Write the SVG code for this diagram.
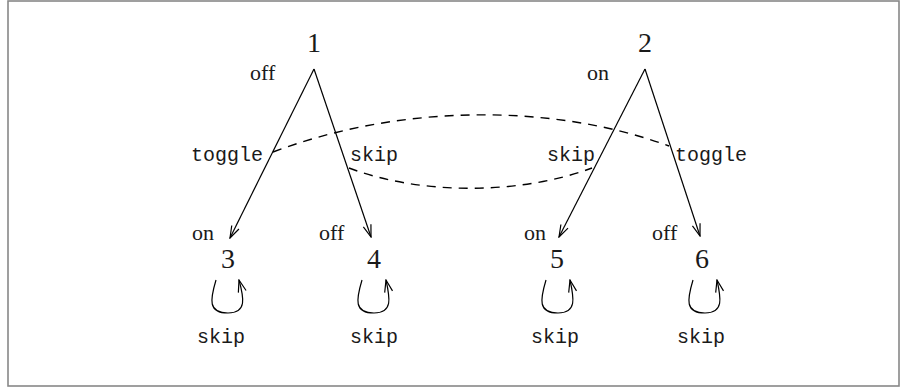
<svg xmlns="http://www.w3.org/2000/svg" width="907" height="390" viewBox="0 0 907 390">
<style>
.num{font-family:"Liberation Serif",serif;font-size:28px;fill:#1a1a1a;text-anchor:middle}
.st{font-family:"Liberation Serif",serif;font-size:22px;fill:#1a1a1a}
.tt{font-family:"Liberation Mono",monospace;font-size:20px;fill:#1a1a1a}
.ln{fill:none;stroke:#000;stroke-width:1.2}
.ds{fill:none;stroke:#000;stroke-width:1.4;stroke-dasharray:9 7}
</style>
<defs>
<marker id="ar" viewBox="0 0 14 10" refX="13" refY="5" markerWidth="14" markerHeight="10" markerUnits="userSpaceOnUse" orient="auto">
<path d="M1,1 L13,5 L1,9" fill="none" stroke="#000" stroke-width="1.2"/>
</marker>
</defs>
<rect x="8" y="1" width="891" height="385" fill="#fff" stroke="#888" stroke-width="1.6"/>
<g id="n1"><text class="num" x="314" y="52">1</text><text class="st" x="250" y="80">off</text></g>
<g id="n2"><text class="num" x="645" y="52">2</text><text class="st" x="587" y="80">on</text></g>
<g id="n3"><text class="num" x="228" y="268">3</text><text class="st" x="192" y="240">on</text></g>
<g id="n4"><text class="num" x="374" y="268">4</text><text class="st" x="319" y="240">off</text></g>
<g id="n5"><text class="num" x="557" y="268">5</text><text class="st" x="524" y="240">on</text></g>
<g id="n6"><text class="num" x="702" y="268">6</text><text class="st" x="652" y="240">off</text></g>
<g id="connectors">
<path class="ln" d="M314,69 L230,238" marker-end="url(#ar)"/>
<path class="ln" d="M314,69 L371,237" marker-end="url(#ar)"/>
<path class="ln" d="M645,69 L559,237" marker-end="url(#ar)"/>
<path class="ln" d="M645,69 L700,236" marker-end="url(#ar)"/>
<path class="ds" d="M273,152 C400,104 552,103 669,146"/>
<path class="ds" d="M349,168 C420,195 520,195 592,168"/>
<path class="ln" d="M216,280 C210,300 208,313 228,313 C247,313 244,298 239,280" marker-end="url(#ar)"/>
<path class="ln" d="M362,280 C356,300 354,313 374,313 C393,313 390,298 386,280" marker-end="url(#ar)"/>
<path class="ln" d="M546,280 C540,300 538,313 558,313 C577,313 574,298 570,280" marker-end="url(#ar)"/>
<path class="ln" d="M693,280 C687,300 685,313 705,313 C724,313 721,298 717,280" marker-end="url(#ar)"/>
<text class="tt" x="191" y="161">toggle</text>
<text class="tt" x="350" y="161">skip</text>
<text class="tt" x="547" y="161">skip</text>
<text class="tt" x="675" y="161">toggle</text>
<text class="tt" x="197" y="343">skip</text>
<text class="tt" x="350" y="343">skip</text>
<text class="tt" x="531" y="343">skip</text>
<text class="tt" x="677" y="343">skip</text>
</g>
</svg>
